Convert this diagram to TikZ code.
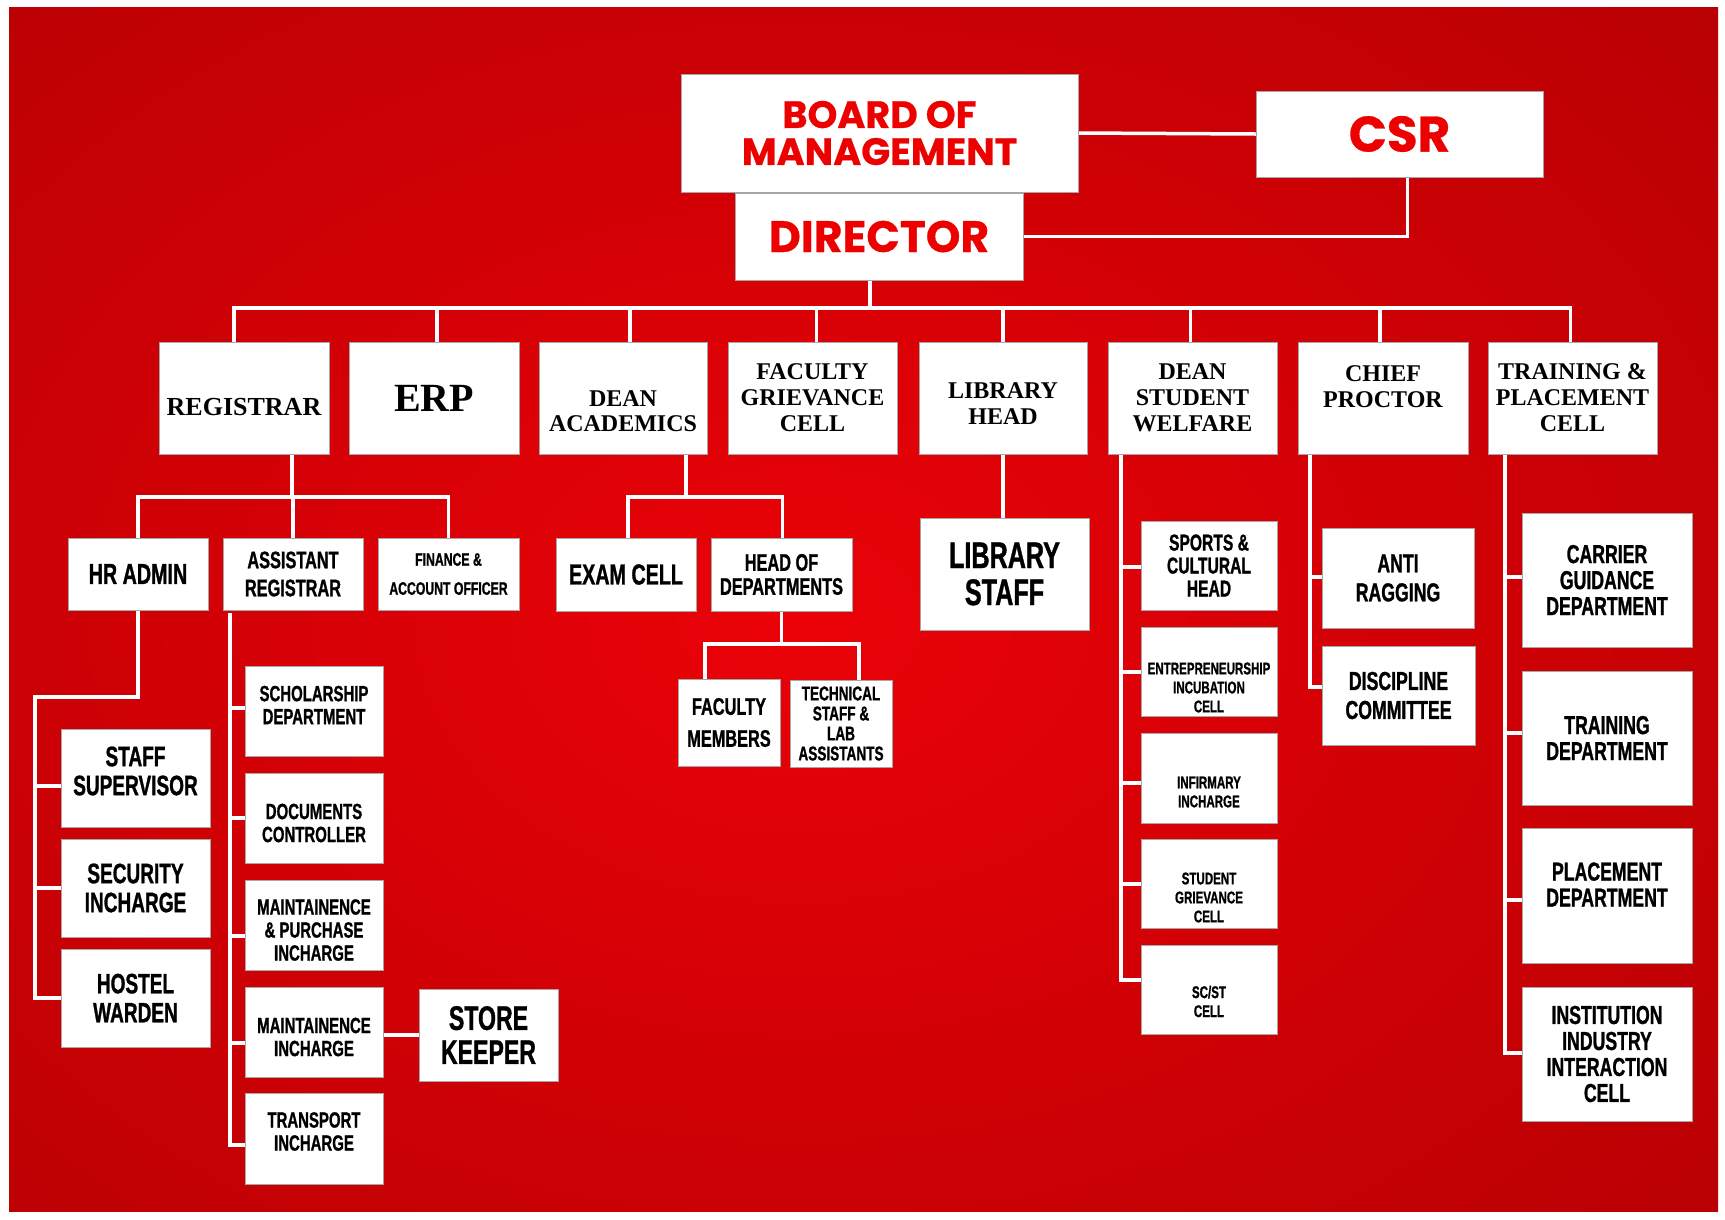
\documentclass[tikz,border=0pt]{standalone}
\usepackage{fontspec}
\setmainfont{Liberation Serif}
\newfontfamily\topf{Poppins}[FakeBold=0.6]
\newfontfamily\serf{Liberation Serif}
\newfontfamily\bebf{Liberation Sans}[FakeStretch=0.68, FakeBold=1]
\usetikzlibrary{fit}
\pgfdeclarelayer{bg}
\pgfdeclarelayer{wires}
\pgfsetlayers{bg,wires,main}
\definecolor{topred}{RGB}{236,0,0}
\definecolor{bgin}{RGB}{234,2,8}
\definecolor{bgout}{RGB}{174,0,2}
\begin{document}
\begin{tikzpicture}[x=1pt,y=-1pt,
  box/.style={inner sep=0pt, draw=black!35, line width=0.7pt, fill=white},
  wire/.style={draw=white, line width=3.5pt, line cap=rect},
  tt/.style 2 args={font=\topf\bfseries\fontsize{#1}{#2}\selectfont, text=topred, align=center, inner sep=0pt},
  st/.style 2 args={font=\serf\bfseries\fontsize{#1}{#2}\selectfont, align=center, inner sep=0pt},
  bt/.style 2 args={font=\bebf\bfseries\fontsize{#1}{#2}\selectfont, align=center, inner sep=0pt},
]
\useasboundingbox (0,0) rectangle (1725,1219);
\begin{pgfonlayer}{bg}
\fill[white] (0,0) rectangle (1725,1219);
\begin{scope}
\clip (9,7) rectangle (1718,1211);
\fill[bgout] (9,7) rectangle (1718,1211);
\shade[inner color=bgin, outer color=bgout] (800,620) ellipse (1500 and 1100);
\end{scope}
\end{pgfonlayer}

% ---------- top ----------
\node[box, fit={(681,74)(1078,192)}] (bom) {};
\node[tt={38}{37}] (bom-t) at (bom) {BOARD OF\\MANAGEMENT};
\node[box, fit={(1256,91)(1543,177)}] (csr) {};
\node[tt={50}{50}] (csr-t) at (csr) {CSR};
\node[box, fit={(735,193)(1023,280)}] (dir) {};
\node[tt={44}{44}] (dir-t) at (dir) {DIRECTOR};

% ---------- level 2 ----------
\node[box, fit={(159,342)(329,454)}] (reg) {};
\node[st={26}{26}, yshift=-9pt] (reg-t) at (reg) {REGISTRAR};
\node[box, fit={(349,342)(519,454)}] (erp) {};
\node[st={40}{40}] (erp-t) at (erp) {ERP};
\node[box, fit={(539,342)(707,454)}] (da) {};
\node[st={24}{25}, yshift=-13pt] (da-t) at (da) {DEAN\\ACADEMICS};
\node[box, fit={(728,342)(897,454)}] (fgc) {};
\node[st={24}{26}] (fgc-t) at (fgc) {FACULTY\\GRIEVANCE\\CELL};
\node[box, fit={(919,342)(1087,454)}] (lh) {};
\node[st={24}{26}, yshift=-6pt] (lh-t) at (lh) {LIBRARY\\HEAD};
\node[box, fit={(1108,342)(1277,454)}] (dsw) {};
\node[st={24}{26}] (dsw-t) at (dsw) {DEAN\\STUDENT\\WELFARE};
\node[box, fit={(1298,342)(1468,454)}] (cp) {};
\node[st={24}{26}, yshift=11pt] (cp-t) at (cp) {CHIEF\\PROCTOR};
\node[box, fit={(1488,342)(1657,454)}] (tpc) {};
\node[st={24}{26}] (tpc-t) at (tpc) {TRAINING \&\\PLACEMENT\\CELL};

% ---------- registrar branch ----------
\node[box, fit={(68,538)(208,610)}] (hr) {};
\node[bt={29}{30}] (hr-t) at (hr) {HR ADMIN};
\node[box, fit={(223,538)(363,610)}] (ar) {};
\node[bt={24}{28}] (ar-t) at (ar) {ASSISTANT\\REGISTRAR};
\node[box, fit={(378,538)(519,610)}] (fao) {};
\node[bt={18}{29}] (fao-t) at (fao) {FINANCE \&\\ACCOUNT OFFICER};

\node[box, fit={(61,729)(210,827)}] (ss) {};
\node[bt={28}{29}, yshift=7pt] (ss-t) at (ss) {STAFF\\SUPERVISOR};
\node[box, fit={(61,839)(210,937)}] (sec) {};
\node[bt={28}{29}] (sec-t) at (sec) {SECURITY\\INCHARGE};
\node[box, fit={(61,949)(210,1047)}] (hw) {};
\node[bt={28}{29}] (hw-t) at (hw) {HOSTEL\\WARDEN};

\node[box, fit={(245,666)(383,756)}] (sch) {};
\node[bt={22}{23}, yshift=6pt] (sch-t) at (sch) {SCHOLARSHIP\\DEPARTMENT};
\node[box, fit={(245,773)(383,863)}] (doc) {};
\node[bt={22}{23}, yshift=-5pt] (doc-t) at (doc) {DOCUMENTS\\CONTROLLER};
\node[box, fit={(245,880)(383,970)}] (mp) {};
\node[bt={22}{23}, yshift=-5pt] (mp-t) at (mp) {MAINTAINENCE\\\& PURCHASE\\INCHARGE};
\node[box, fit={(245,987)(383,1077)}] (mi) {};
\node[bt={22}{23}, yshift=-5pt] (mi-t) at (mi) {MAINTAINENCE\\INCHARGE};
\node[box, fit={(245,1093)(383,1184)}] (tr) {};
\node[bt={22}{23}, yshift=7pt] (tr-t) at (tr) {TRANSPORT\\INCHARGE};
\node[box, fit={(419,989)(558,1081)}] (sk) {};
\node[bt={34}{34}] (sk-t) at (sk) {STORE\\KEEPER};

% ---------- dean academics branch ----------
\node[box, fit={(556,538)(696,611)}] (ec) {};
\node[bt={29}{30}] (ec-t) at (ec) {EXAM CELL};
\node[box, fit={(711,538)(852,611)}] (hod) {};
\node[bt={24}{24}] (hod-t) at (hod) {HEAD OF\\DEPARTMENTS};
\node[box, fit={(678,679)(780,766)}] (fm) {};
\node[bt={24}{32}] (fm-t) at (fm) {FACULTY\\MEMBERS};
\node[box, fit={(790,680)(892,767)}] (tech) {};
\node[bt={20}{20}] (tech-t) at (tech) {TECHNICAL\\STAFF \&\\LAB\\ASSISTANTS};

% ---------- library ----------
\node[box, fit={(920,518)(1089,630)}] (ls) {};
\node[bt={37}{37}] (ls-t) at (ls) {LIBRARY\\STAFF};

% ---------- dean student welfare ----------
\node[box, fit={(1141,521)(1277,610)}] (sp) {};
\node[bt={23}{23}] (sp-t) at (sp) {SPORTS \&\\CULTURAL\\HEAD};
\node[box, fit={(1141,627)(1277,716)}] (ent) {};
\node[bt={17}{19}, yshift=-16pt] (ent-t) at (ent) {ENTREPRENEURSHIP\\INCUBATION\\CELL};
\node[box, fit={(1141,733)(1277,823)}] (inf) {};
\node[bt={17}{19}, yshift=-14pt] (inf-t) at (inf) {INFIRMARY\\INCHARGE};
\node[box, fit={(1141,839)(1277,928)}] (sg) {};
\node[bt={17}{19}, yshift=-14pt] (sg-t) at (sg) {STUDENT\\GRIEVANCE\\CELL};
\node[box, fit={(1141,945)(1277,1034)}] (scst) {};
\node[bt={17}{19}, yshift=-12pt] (scst-t) at (scst) {SC/ST\\CELL};

% ---------- chief proctor ----------
\node[box, fit={(1322,528)(1474,628)}] (rag) {};
\node[bt={26}{29}] (rag-t) at (rag) {ANTI\\RAGGING};
\node[box, fit={(1322,646)(1475,745)}] (disc) {};
\node[bt={26}{29}] (disc-t) at (disc) {DISCIPLINE\\COMMITTEE};

% ---------- training & placement ----------
\node[box, fit={(1522,513)(1692,647)}] (car) {};
\node[bt={26}{26}] (car-t) at (car) {CARRIER\\GUIDANCE\\DEPARTMENT};
\node[box, fit={(1522,671)(1692,805)}] (td) {};
\node[bt={26}{26}] (td-t) at (td) {TRAINING\\DEPARTMENT};
\node[box, fit={(1522,828)(1692,963)}] (pl) {};
\node[bt={26}{26}, yshift=11pt] (pl-t) at (pl) {PLACEMENT\\DEPARTMENT};
\node[box, fit={(1522,987)(1692,1121)}] (iiic) {};
\node[bt={26}{26}] (iiic-t) at (iiic) {INSTITUTION\\INDUSTRY\\INTERACTION\\CELL};

% ---------- connectors ----------
\coordinate (bus) at (0,308);
\coordinate (bus2) at (0,497);
\coordinate (bus4) at (0,644);
\coordinate (hrk) at (35,697);
\coordinate (jss) at (35,786);
\coordinate (arto) at (230,615);
\coordinate (jsch) at (230,708);
\coordinate (jdoc) at (230,818);
\coordinate (jmp) at (230,936);
\coordinate (jmi) at (230,1043);
\coordinate (jtr) at (230,1145);
\coordinate (jsp) at (1121,567);
\coordinate (jent) at (1121,672);
\coordinate (jinf) at (1121,783);
\coordinate (jsg) at (1121,884);
\coordinate (jscst) at (1121,980);
\coordinate (jrag) at (1310,577);
\coordinate (jdisc) at (1310,687);
\coordinate (jcar) at (1505,577);
\coordinate (jtd) at (1505,733);
\coordinate (jpl) at (1505,900);
\coordinate (jiiic) at (1505,1053);

\begin{pgfonlayer}{wires}
\draw[wire] (bom.east) -- (csr.west);
\draw[wire] (csr.south) ++(8,0) coordinate (csrd) |- (dir.east);
\draw[wire] (dir.south) ++(-9,0) coordinate (d0) -- (d0 |- bus);
\draw[wire] (reg.north) ++(-10,0) coordinate (d1) -- (d1 |- bus);
\draw[wire] (erp.north) ++(3,0) coordinate (d2) -- (d2 |- bus);
\draw[wire] (da.north) ++(7,0) coordinate (d3) -- (d3 |- bus);
\draw[wire] (fgc.north) ++(4,0) coordinate (d4) -- (d4 |- bus);
\draw[wire] (lh.north) -- (lh.north |- bus);
\draw[wire] (dsw.north) ++(-2,0) coordinate (d6) -- (d6 |- bus);
\draw[wire] (cp.north) ++(-3,0) coordinate (d7) -- (d7 |- bus);
\draw[wire] (tpc.north) ++(-2,0) coordinate (d8) -- (d8 |- bus);
\draw[wire] (d1 |- bus) -- (d8 |- bus);

% registrar
\draw[wire] (reg.south) ++(48,0) coordinate (r0) -- (r0 |- bus2);
\draw[wire] (hr.north) -- (hr.north |- bus2) -- (fao.north |- bus2) -- (fao.north);
\draw[wire] (ar.north) -- (ar.north |- bus2);
\draw[wire] (hr.south) |- (hrk) -- (hrk |- hw.west) -- (hw.west);
\draw[wire] (jss) -- (jss -| ss.west);
\draw[wire] (hrk |- sec.west) -- (sec.west);
\draw[wire] (arto) -- (jtr) -- (jtr -| tr.west);
\draw[wire] (jsch) -- (jsch -| sch.west);
\draw[wire] (jdoc) -- (jdoc -| doc.west);
\draw[wire] (jmp) -- (jmp -| mp.west);
\draw[wire] (jmi) -- (jmi -| mi.west);
\draw[wire] (mi.east |- sk.west) -- (sk.west);

% dean academics
\draw[wire] (da.south) ++(63,0) coordinate (a0) -- (a0 |- bus2);
\draw[wire] (ec.north) ++(2,0) coordinate (a1) -- (a1 |- bus2);
\draw[wire] (hod.north) ++(1,0) coordinate (a2) -- (a2 |- bus2);
\draw[wire] (a1 |- bus2) -- (a2 |- bus2);
\draw[wire] (hod.south) -- (hod.south |- bus4);
\draw[wire] (fm.north) ++(-24,0) coordinate (f1) -- (f1 |- bus4);
\draw[wire] (tech.north) ++(18,0) coordinate (f2) -- (f2 |- bus4);
\draw[wire] (f1 |- bus4) -- (f2 |- bus4);

% library
\draw[wire] (lh.south) -- (lh.south |- ls.north);

% dean student welfare
\draw[wire] (dsw.south -| jsp) -- (jscst) -- (jscst -| scst.west);
\draw[wire] (jsp) -- (jsp -| sp.west);
\draw[wire] (jent) -- (jent -| ent.west);
\draw[wire] (jinf) -- (jinf -| inf.west);
\draw[wire] (jsg) -- (jsg -| sg.west);

% chief proctor
\draw[wire] (cp.south -| jrag) -- (jdisc) -- (jdisc -| disc.west);
\draw[wire] (jrag) -- (jrag -| rag.west);

% training & placement
\draw[wire] (tpc.south -| jcar) -- (jiiic) -- (jiiic -| iiic.west);
\draw[wire] (jcar) -- (jcar -| car.west);
\draw[wire] (jtd) -- (jtd -| td.west);
\draw[wire] (jpl) -- (jpl -| pl.west);
\end{pgfonlayer}
\end{tikzpicture}
\end{document}
